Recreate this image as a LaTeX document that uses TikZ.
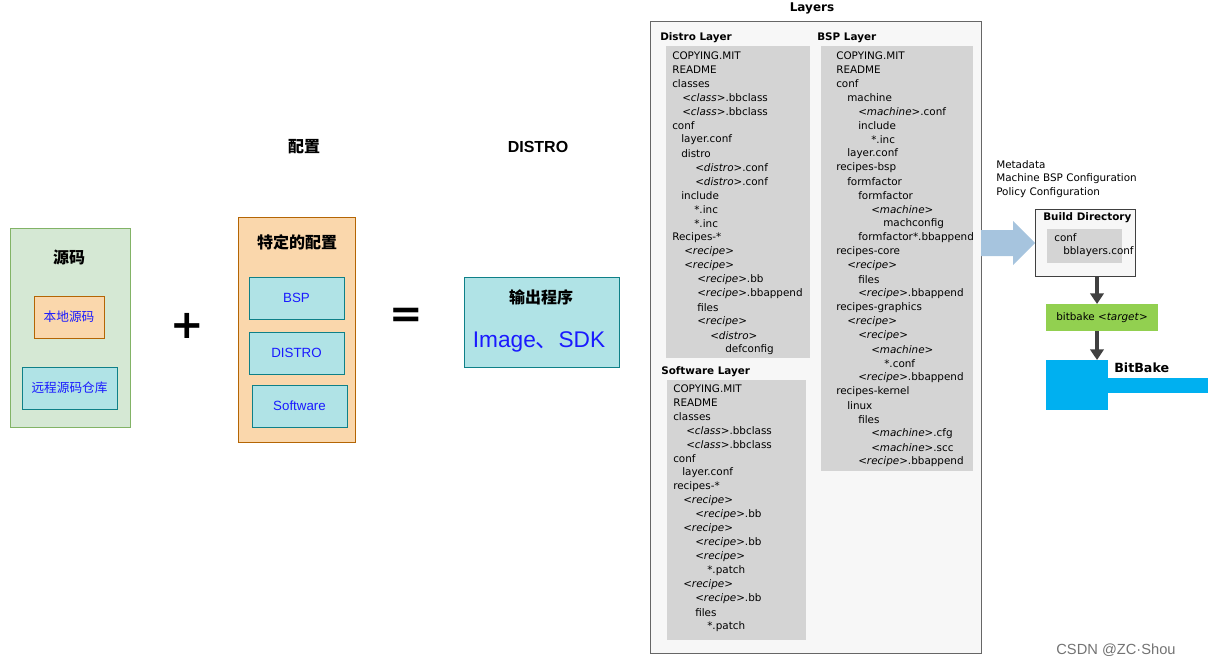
\documentclass[tikz,border=0pt]{standalone}
\usepackage{fontspec}
\setmainfont{DejaVu Sans}
\newfontfamily\cjk{Noto Sans CJK SC}
\newfontfamily\arialish{Liberation Sans}
\usetikzlibrary{arrows.meta,positioning}
\definecolor{srcgreen}{HTML}{D5E8D4}
\definecolor{srcgreenline}{HTML}{82B366}
\definecolor{cfgorange}{HTML}{FAD7AC}
\definecolor{cfgorangeline}{HTML}{B46504}
\definecolor{aqua}{HTML}{B0E3E6}
\definecolor{aqualine}{HTML}{0E8088}
\definecolor{treegray}{HTML}{D4D4D4}
\definecolor{bbblue}{HTML}{00B0F0}
\definecolor{bbgreen}{HTML}{92D050}
\definecolor{bigarrow}{HTML}{A6C4DE}
\definecolor{txtblue}{HTML}{1A1AFF}
\tikzset{
  item/.style={anchor=west, inner sep=0pt, font=\fontsize{7.8}{9}\selectfont},
  head/.style={anchor=west, inner sep=0pt, font=\fontsize{7.8}{9}\selectfont\bfseries},
  tree/.style={draw=none, fill=treegray},
  flow/.style={-{Triangle[length=8pt,width=10pt]}, line width=2.8pt, draw=black!75},
}
\newcommand{\ang}[1]{<\textit{#1}>}
\begin{document}
\begin{tikzpicture}[x=0.75pt,y=-0.75pt]
\useasboundingbox (0,0) rectangle (1217,667);

% source
\draw[srcgreenline, fill=srcgreen] (10,228) rectangle (130,427);
\node[font=\cjk\bfseries\fontsize{12}{14}\selectfont] (src) at (69,257) {源码};
\draw[cfgorangeline, fill=cfgorange] (34,296) rectangle (104,338);
\node[text=txtblue, font=\cjk\fontsize{9.5}{11}\selectfont] (local) at (69,317) {本地源码};
\draw[aqualine, fill=aqua] (22,367) rectangle (117,409);
\node[text=txtblue, font=\cjk\fontsize{9.5}{11}\selectfont] (remote) at (69.5,388) {远程源码仓库};

\node[font=\bfseries\fontsize{30}{30}\selectfont] (plus) at (187,326) {+};

% config
\node[font=\cjk\bfseries\fontsize{12}{14}\selectfont] (cfglabel) at (304,147) {配置};
\draw[cfgorangeline, fill=cfgorange] (238,217) rectangle (355,442);
\node[font=\cjk\bfseries\fontsize{12}{14}\selectfont] (cfg) at (297,242) {特定的配置};
\draw[aqualine, fill=aqua] (249,277) rectangle (344,319);
\node[text=txtblue, font=\arialish\fontsize{10}{11}\selectfont] (bsp) at (296.5,298) {BSP};
\draw[aqualine, fill=aqua] (249,332) rectangle (344,374);
\node[text=txtblue, font=\arialish\fontsize{10}{11}\selectfont] (distro) at (296.5,353) {DISTRO};
\draw[aqualine, fill=aqua] (252,385) rectangle (347,427);
\node[text=txtblue, font=\arialish\fontsize{10}{11}\selectfont] (soft) at (299.5,406) {Software};

\node[font=\bfseries\fontsize{30}{30}\selectfont] (equal) at (406,318) {=};

% output
\node[font=\arialish\bfseries\fontsize{12}{13}\selectfont] (outlabel) at (538,147) {DISTRO};
\draw[aqualine, fill=aqua] (464,277) rectangle (619,367);
\node[font=\cjk\bfseries\fontsize{12}{14}\selectfont] (out) at (541,297) {输出程序};
\node[text=txtblue, font=\arialish\fontsize{17}{20}\selectfont] (img) at (539,342) {Image{\cjk 、}SDK};

% layers
\node[font=\bfseries\fontsize{9}{11}\selectfont] (layers) at (812,8) {Layers};
\draw[black!60, fill=black!3] (650,21) rectangle (981,653);

\node[head] (dl) at (660,38) {Distro Layer};
\fill[tree] (666,46) rectangle (810,358);
\foreach \i/\t [count=\n] in {0/COPYING.MIT,0/README,0/classes,10/{\ang{class}.bbclass},10/{\ang{class}.bbclass},
  0/conf,9/layer.conf,9/distro,23/{\ang{distro}.conf},23/{\ang{distro}.conf},9/include,22/*.inc,22/*.inc,
  0/Recipes-*,12/{\ang{recipe}},12/{\ang{recipe}},25/{\ang{recipe}.bb},25/{\ang{recipe}.bbappend},25/files,
  25/{\ang{recipe}},38/{\ang{distro}},53/defconfig}
  \node[item] (d\n) at ({672+\i},{42+14*\n}) {\t};

\node[head] (bl) at (817,38) {BSP Layer};
\fill[tree] (821,46) rectangle (973,471);
\foreach \i/\t [count=\n] in {0/COPYING.MIT,0/README,0/conf,11/machine,22/{\ang{machine}.conf},22/include,35/*.inc,
  11/layer.conf,0/recipes-bsp,11/formfactor,22/formfactor,35/{\ang{machine}},47/machconfig,22/formfactor*.bbappend,
  0/recipes-core,11/{\ang{recipe}},22/files,22/{\ang{recipe}.bbappend},0/recipes-graphics,11/{\ang{recipe}},
  22/{\ang{recipe}},35/{\ang{machine}},48/*.conf,22/{\ang{recipe}.bbappend},0/recipes-kernel,11/linux,22/files,
  35/{\ang{machine}.cfg},35/{\ang{machine}.scc},22/{\ang{recipe}.bbappend}}
  \node[item] (b\n) at ({836+\i},{42+14*\n}) {\t};

\node[head] (sl) at (661,372) {Software Layer};
\fill[tree] (667,380) rectangle (806,640);
\foreach \i/\t [count=\n] in {0/COPYING.MIT,0/README,0/classes,13/{\ang{class}.bbclass},13/{\ang{class}.bbclass},
  0/conf,9/layer.conf,0/recipes-*,10/{\ang{recipe}},22/{\ang{recipe}.bb},10/{\ang{recipe}},22/{\ang{recipe}.bb},
  22/{\ang{recipe}},34/*.patch,10/{\ang{recipe}},22/{\ang{recipe}.bb},22/files,34/*.patch}
  \node[item] (s\n) at ({673+\i},{375+14*\n}) {\t};

% big arrow
\fill[bigarrow] (981,230) -- (1013,230) -- (1013,221) -- (1035,243) -- (1013,265) -- (1013,256) -- (981,256) -- cycle;

\node[item] (meta1) at (996,165) {Metadata};
\node[item] (meta2) at (996,179) {Machine BSP Configuration};
\node[item] (meta3) at (996,193) {Policy Configuration};

% build
\draw[black!75, fill=black!3] (1035,209) rectangle (1135,276);
\node[head] (bd) at (1043,218) {Build Directory};
\fill[tree] (1047,229) rectangle (1122,263);
\node[item] (bconf) at (1054,238) {conf};
\node[item] (bbl) at (1063,252) {bblayers.conf};
\coordinate (bdbot) at (1097,276);

\fill[bbgreen] (1046,304) rectangle (1158,331);
\node[item, anchor=center] (bitbake) at (1102,317.5) {bitbake \ang{target}};
\coordinate (bbtop) at (1097,304);
\coordinate (bbbot) at (1097,331);

\fill[bbblue] (1046,360) rectangle (1108,410);
\fill[bbblue] (1108,378) rectangle (1208,393);
\node[head, font=\fontsize{9.5}{11}\selectfont\bfseries] (bblabel) at (1114,368) {BitBake};
\coordinate (bbtarget) at (1097,360);

\draw[flow] (bdbot) -- (bbtop);
\draw[flow] (bbbot) -- (bbtarget);

\node[text=black!55, font=\arialish\fontsize{11}{12}\selectfont] (mark) at (1116,650) {CSDN @ZC·Shou};
\end{tikzpicture}
\end{document}
